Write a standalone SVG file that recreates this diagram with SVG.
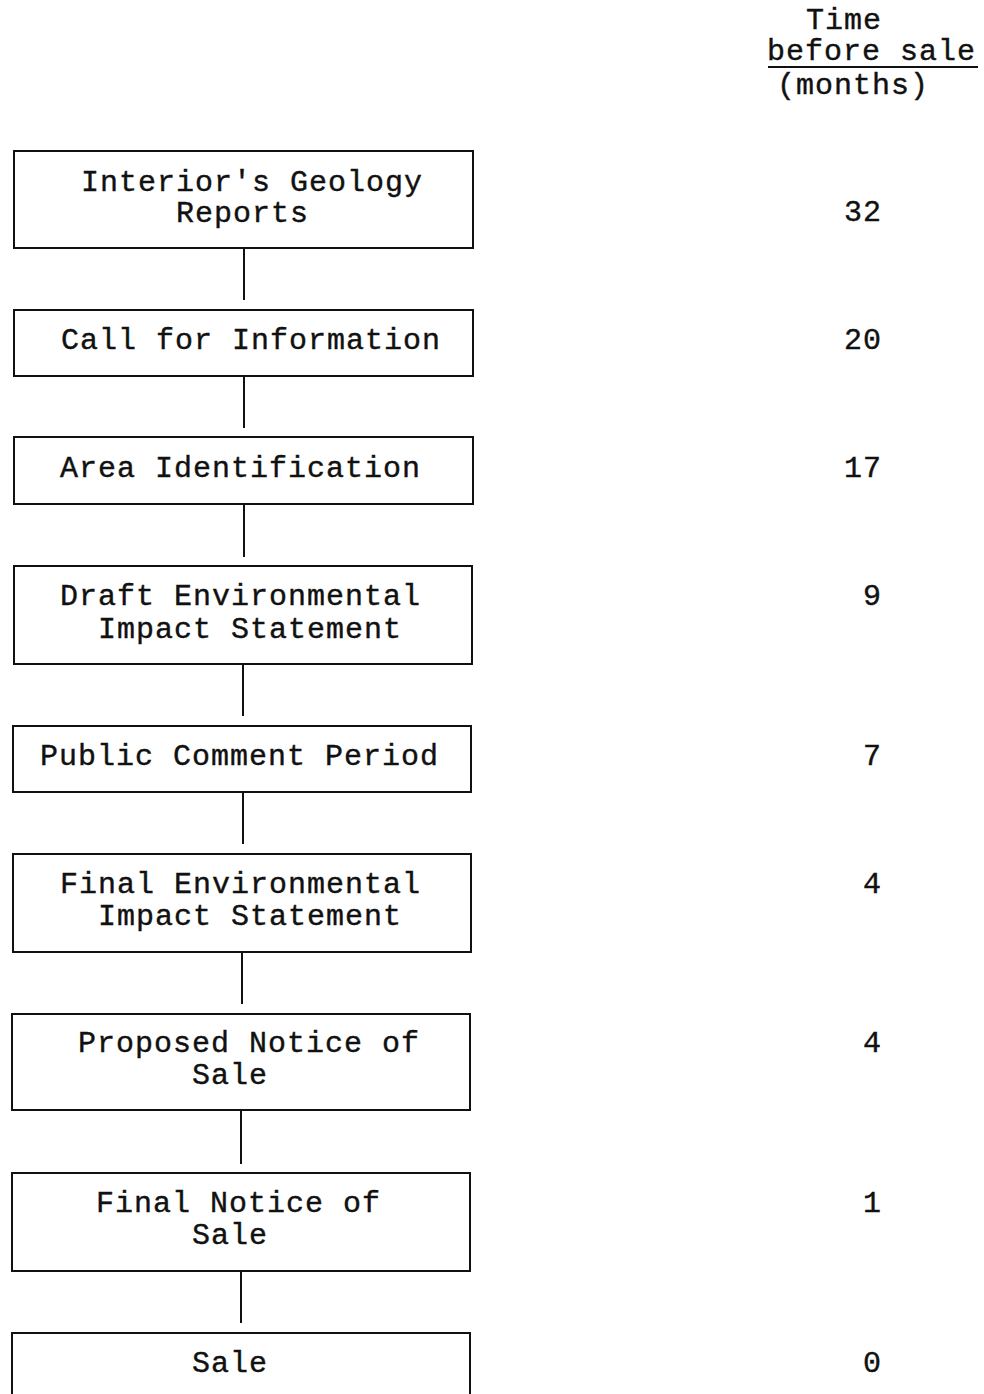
<svg xmlns="http://www.w3.org/2000/svg" width="984" height="1394" viewBox="0 0 984 1394">
<style>
.box{fill:#fff;stroke:#111;stroke-width:2}
.t{font-family:"Liberation Mono","Courier New",monospace;font-size:30px;letter-spacing:1px;fill:#111;stroke:#111;stroke-width:0.4}
.n{font-family:"Liberation Mono","Courier New",monospace;font-size:30px;letter-spacing:1px;fill:#111;stroke:#111;stroke-width:0.4;text-anchor:end}
.c{stroke:#111;stroke-width:2;fill:none}
</style>
<rect width="984" height="1394" fill="#fff"/>
<g id="header">
<text class="t" x="806" y="29">Time</text>
<text class="t" x="767" y="60">before sale</text>
<line class="c" x1="768" y1="67" x2="978" y2="67"/>
<text class="t" x="777" y="94">(months)</text>
</g>
<g id="connectors">
<line class="c" x1="244" y1="248" x2="244" y2="300"/>
<line class="c" x1="244" y1="376" x2="244" y2="428"/>
<line class="c" x1="244" y1="504" x2="244" y2="557"/>
<line class="c" x1="243" y1="664" x2="243" y2="716"/>
<line class="c" x1="243" y1="792" x2="243" y2="844"/>
<line class="c" x1="242" y1="952" x2="242" y2="1004"/>
<line class="c" x1="241" y1="1110" x2="241" y2="1164"/>
<line class="c" x1="241" y1="1271" x2="241" y2="1323"/>
</g>
<g id="n1">
<rect class="box" x="14" y="151" width="459" height="97"/>
<text class="t" x="81" y="191">Interior's Geology</text>
<text class="t" x="176" y="222">Reports</text>
<text class="n" x="882" y="221">32</text>
</g>
<g id="n2">
<rect class="box" x="14" y="310" width="459" height="66"/>
<text class="t" x="61" y="349">Call for Information</text>
<text class="n" x="882" y="349">20</text>
</g>
<g id="n3">
<rect class="box" x="14" y="437" width="459" height="67"/>
<text class="t" x="60" y="477">Area Identification</text>
<text class="n" x="882" y="477">17</text>
</g>
<g id="n4">
<rect class="box" x="14" y="566" width="458" height="98"/>
<text class="t" x="60" y="605">Draft Environmental</text>
<text class="t" x="98" y="638">Impact Statement</text>
<text class="n" x="882" y="605">9</text>
</g>
<g id="n5">
<rect class="box" x="13" y="726" width="458" height="66"/>
<text class="t" x="40" y="765">Public Comment Period</text>
<text class="n" x="882" y="765">7</text>
</g>
<g id="n6">
<rect class="box" x="13" y="854" width="458" height="98"/>
<text class="t" x="60" y="893">Final Environmental</text>
<text class="t" x="98" y="925">Impact Statement</text>
<text class="n" x="882" y="893">4</text>
</g>
<g id="n7">
<rect class="box" x="12" y="1014" width="458" height="96"/>
<text class="t" x="78" y="1052">Proposed Notice of</text>
<text class="t" x="192" y="1084">Sale</text>
<text class="n" x="882" y="1052">4</text>
</g>
<g id="n8">
<rect class="box" x="12" y="1173" width="458" height="98"/>
<text class="t" x="96" y="1212">Final Notice of</text>
<text class="t" x="192" y="1244">Sale</text>
<text class="n" x="882" y="1212">1</text>
</g>
<g id="n9">
<rect class="box" x="12" y="1333" width="458" height="80"/>
<text class="t" x="192" y="1372">Sale</text>
<text class="n" x="882" y="1372">0</text>
</g>
</svg>
